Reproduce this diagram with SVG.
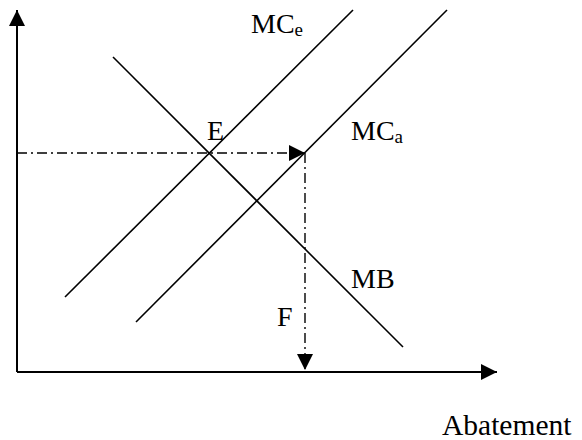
<svg xmlns="http://www.w3.org/2000/svg" width="582" height="440" viewBox="0 0 582 440">
<style>
.ax{stroke:#000;stroke-width:2;fill:none}
.ln{stroke:#000;stroke-width:1.6;fill:none}
.dd{stroke:#000;stroke-width:1.4;fill:none;stroke-dasharray:10,4,2,4}
text{font-family:"Liberation Serif","Times New Roman",serif;fill:#000}
.lb{font-size:28px}
.sub{font-size:19px}
</style>
<defs>
<marker id="ah" viewBox="0 0 16 16" refX="16" refY="8" markerWidth="16" markerHeight="16" markerUnits="userSpaceOnUse" orient="auto">
<path d="M0,0 L16,8 L0,16 Z" fill="#000"/>
</marker>
</defs>
<g id="connectors">
<line class="ax" x1="17" y1="372" x2="17" y2="10" marker-end="url(#ah)"/>
<line class="ax" x1="17" y1="372" x2="497" y2="372" marker-end="url(#ah)"/>
<line class="dd" x1="17" y1="153" x2="305" y2="153" marker-end="url(#ah)"/>
<line class="dd" x1="305" y1="153" x2="305" y2="370" marker-end="url(#ah)"/>
</g>
<g id="MCe"><line class="ln" x1="65" y1="297" x2="353" y2="10"/>
<text class="lb" x="251" y="33">MC<tspan class="sub" dy="3">e</tspan></text></g>
<g id="MCa"><line class="ln" x1="136" y1="322" x2="447" y2="10"/>
<text class="lb" x="351" y="140">MC<tspan class="sub" dy="3">a</tspan></text></g>
<g id="MB"><line class="ln" x1="113" y1="57" x2="403" y2="347"/>
<text class="lb" x="351" y="288">MB</text></g>
<g id="E"><text class="lb" x="207" y="140">E</text></g>
<g id="F"><text class="lb" x="277" y="326">F</text></g>
<g id="label-abatement"><text class="lb" x="442" y="435" style="font-size:29.5px">Abatement</text></g>
</svg>
